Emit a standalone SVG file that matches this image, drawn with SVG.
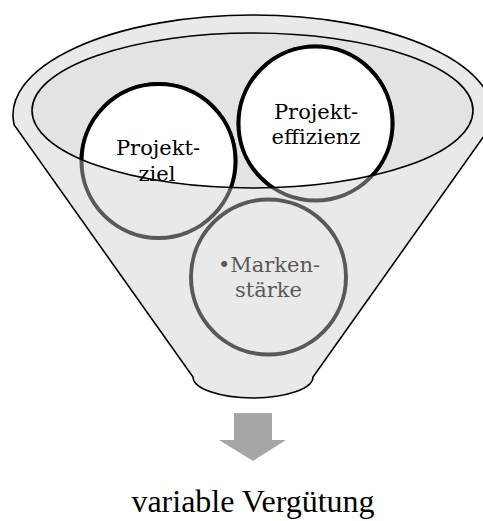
<svg xmlns="http://www.w3.org/2000/svg" width="483" height="521" viewBox="0 0 483 521">
<style>
.lbl{font-family:"DejaVu Serif","Liberation Serif",serif;font-size:21px;text-anchor:middle}
.out{fill:none;stroke:#000;stroke-width:1.6}
.cg{fill:none;stroke:#595959;stroke-width:4}
.cb{fill:#fff;stroke:#000;stroke-width:4}
</style>
<defs>
<clipPath id="inner"><ellipse cx="252.5" cy="110.5" rx="220.5" ry="77.5"/></clipPath>
</defs>
<rect width="483" height="521" fill="#fff"/>
<g id="funnel">
<path id="body" d="M14.2,125 A240,100 0 1 1 491.8,125 L313,377 A60,21 0 0 1 193,377 Z" fill="#e9e9e9"/>
<ellipse cx="252.5" cy="110.5" rx="220.5" ry="77.5" fill="#e3e3e3"/>
</g>
<g id="projektziel">
<circle cx="158.5" cy="161" r="77" class="cg"/>
<circle cx="158.5" cy="161" r="77" class="cb" clip-path="url(#inner)"/>
<text class="lbl" x="158" y="155">Projekt-</text>
<text class="lbl" x="157" y="181">ziel</text>
</g>
<g id="projekteffizienz">
<circle cx="315.5" cy="123.5" r="77" class="cg"/>
<circle cx="315.5" cy="123.5" r="77" class="cb" clip-path="url(#inner)"/>
<text class="lbl" x="316" y="119">Projekt-</text>
<text class="lbl" x="316" y="144">effizienz</text>
</g>
<g id="funnel-outline">
<path d="M14.2,125 A240,100 0 1 1 491.8,125 L313,377 A60,21 0 0 1 193,377 Z" class="out"/>
<ellipse cx="252.5" cy="110.5" rx="220.5" ry="77.5" class="out"/>
</g>
<g id="markenstaerke">
<circle cx="268.5" cy="277" r="77.5" class="cg"/>
<text class="lbl" x="269" y="272" fill="#595959">•Marken-</text>
<text class="lbl" x="268.5" y="297" fill="#595959">stärke</text>
</g>
<g id="connectors">
<path d="M234,413 H272 V440 H286 L253,461 L219,440 H234 Z" fill="#a6a6a6"/>
</g>
<g id="result">
<text x="253" y="512" font-family="'Liberation Serif',serif" font-size="32" text-anchor="middle">variable Vergütung</text>
</g>
</svg>
